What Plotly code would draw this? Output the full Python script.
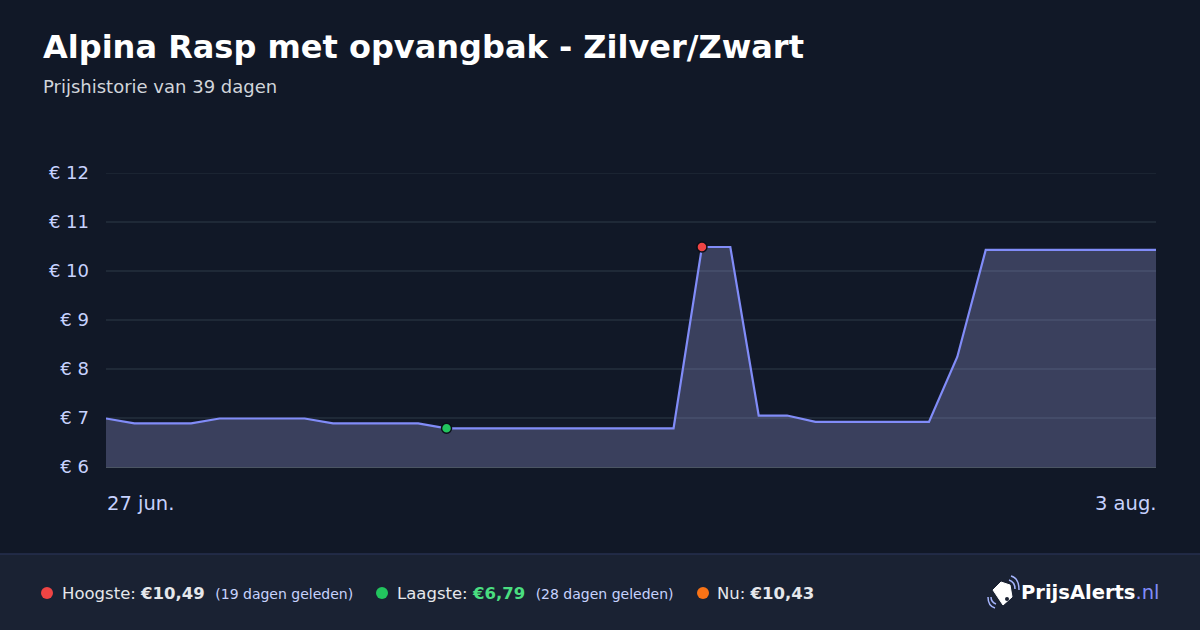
import pandas as pd
import plotly.graph_objects as go

# --- data -----------------------------------------------------------------
dates  = pd.date_range('2025-06-27', '2025-08-03', freq='D')
prices = [6.99, 6.89, 6.89, 6.89, 6.99, 6.99, 6.99, 6.99,
          6.89, 6.89, 6.89, 6.89, 6.79, 6.79, 6.79, 6.79,
          6.79, 6.79, 6.79, 6.79, 6.79, 10.49, 10.49, 7.05,
          7.05, 6.92, 6.92, 6.92, 6.92, 6.92, 8.25, 10.43,
          10.43, 10.43, 10.43, 10.43, 10.43, 10.43]
high_idx   = 21
low_idx    = 12
y_ticks    = [6, 7, 8, 9, 10, 11, 12]
x_labels   = ['27 jun.', '3 aug.']

title      = 'Alpina Rasp met opvangbak - Zilver/Zwart'
subtitle   = 'Prijshistorie van 39 dagen'

# --- styling --------------------------------------------------------------
BG        = '#111827'
FOOTER_BG = '#1a2233'
LINE      = '#818cf8'
FILL      = 'rgba(170,172,240,0.27)'
GRID      = '#1f2937'
TICK      = '#c7d2fe'
FONT      = 'DejaVu Sans'

W, H = 1200, 630
L, R, T, B = 106, 1156, 173, 467   # plot area in pixels


def px(x):
    return (x - L) / (R - L)


def py(y):
    return (B - y) / (B - T)


fig = go.Figure()

fig.add_trace(go.Scatter(x=dates, y=prices,
                         mode='lines',
                         line=dict(color=LINE, width=2.2),
                         fill='tozeroy',
                         fillcolor=FILL,
                         hoverinfo='skip'))

fig.add_trace(go.Scatter(x=[dates[high_idx], dates[low_idx]],
                         y=[prices[high_idx], prices[low_idx]],
                         mode='markers',
                         marker=dict(size=10, color=['#ef4444', '#22c55e'],
                                     line=dict(color='#0b0f19', width=1.5)),
                         hoverinfo='skip'))

fig.update_xaxes(range=[dates[0], dates[-1]],
                 showgrid=False,
                 showticklabels=False,
                 showline=True,
                 linecolor='#4b5563',
                 linewidth=1,
                 zeroline=False)

fig.update_yaxes(range=[6, 12],
                 tickmode='array',
                 tickvals=y_ticks,
                 ticktext=[f'€ {v}' for v in y_ticks],
                 showgrid=True,
                 gridcolor=GRID,
                 gridwidth=1.5,
                 zeroline=False,
                 ticklabelstandoff=16,
                 tickfont=dict(family=FONT, size=18, color=TICK))

shapes = [
    # footer band and separator
    dict(type='rect', xref='paper', yref='paper',
         x0=px(0), x1=px(W), y0=py(554), y1=py(H),
         fillcolor=FOOTER_BG, line_width=0, layer='below'),
    dict(type='line', xref='paper', yref='paper',
         x0=px(0), x1=px(W), y0=py(554), y1=py(554),
         line=dict(color='#262f4f', width=1.5)),
    # top grid line sits on the plot edge, plotly skips it
    dict(type='line', xref='paper', yref='y', x0=0, x1=1, y0=y_ticks[-1], y1=y_ticks[-1],
         line=dict(color=GRID, width=1.5), layer='below'),
]

# footer dots
for cx, col in [(47, '#ef4444'), (382, '#22c55e'), (703, '#f97316')]:
    shapes.append(dict(type='circle', xref='paper', yref='paper',
                       x0=px(cx - 6), x1=px(cx + 6), y0=py(593 - 6), y1=py(593 + 6),
                       fillcolor=col, line_width=0))

# logo: tag icon with signal waves
tag = [(993, 590), (1001, 582), (1010, 585), (1012, 597), (1003, 605)]
path = 'M ' + ' L '.join(f'{px(x)},{py(y)}' for x, y in tag) + ' Z'
shapes.append(dict(type='path', xref='paper', yref='paper', path=path,
                   fillcolor='white', line=dict(color='white', width=1)))
shapes.append(dict(type='circle', xref='paper', yref='paper',
                   x0=px(1005), x1=px(1009), y0=py(597), y1=py(601),
                   fillcolor=FOOTER_BG, line_width=0))
for (x0, y0, cx, cy, x1, y1) in [(1009, 580, 1015, 582, 1015, 589),
                                 (1011, 576, 1019, 578, 1019, 590),
                                 (991, 597, 991, 602, 996, 604),
                                 (988, 597, 988, 606, 995, 608)]:
    p = f'M {px(x0)},{py(y0)} Q {px(cx)},{py(cy)} {px(x1)},{py(y1)}'
    shapes.append(dict(type='path', xref='paper', yref='paper', path=p,
                       line=dict(color='#a5b4fc', width=1.5)))

annotations = [
    dict(text=f'<b>{title}</b>', x=px(41), y=py(47), xanchor='left', yanchor='middle',
         font=dict(family=FONT, size=32, color='white')),
    dict(text=subtitle, x=px(41), y=py(87), xanchor='left', yanchor='middle',
         font=dict(family=FONT, size=18, color='#d1d5db')),
    dict(text='Hoogste: <b>€10,49</b>  <span style="font-size:14px;color:#c7d2fe">(19 dagen geleden)</span>',
         x=px(60), y=py(593), xanchor='left', yanchor='middle',
         font=dict(family=FONT, size=16.5, color='#e5e7eb')),
    dict(text='Laagste: <b><span style="color:#4ade80">€6,79</span></b>  '
              '<span style="font-size:14px;color:#c7d2fe">(28 dagen geleden)</span>',
         x=px(395), y=py(593), xanchor='left', yanchor='middle',
         font=dict(family=FONT, size=16.5, color='#e5e7eb')),
    dict(text='Nu: <b>€10,43</b>',
         x=px(715), y=py(593), xanchor='left', yanchor='middle',
         font=dict(family=FONT, size=16.5, color='#e5e7eb')),
    dict(text='<b>PrijsAlerts</b><span style="color:#818cf8">.nl</span>',
         x=px(1161), y=py(592), xanchor='right', yanchor='middle',
         font=dict(family=FONT, size=19.5, color='white')),
]

for d, lab, anchor, shift in [(dates[0], x_labels[0], 'left', -1),
                              (dates[-1], x_labels[1], 'right', 3)]:
    annotations.append(dict(text=lab, x=d, xref='x', y=py(503), yref='paper',
                            xanchor=anchor, yanchor='middle', showarrow=False, xshift=shift,
                            font=dict(family=FONT, size=19.5, color=TICK)))

for a in annotations:
    a.setdefault('xref', 'paper')
    a.setdefault('yref', 'paper')
    a.setdefault('showarrow', False)

fig.update_layout(width=W, height=H,
                  paper_bgcolor=BG,
                  plot_bgcolor=BG,
                  showlegend=False,
                  margin=dict(l=L, r=W - R, t=T, b=H - B, pad=0),
                  shapes=shapes,
                  annotations=annotations,
                  font=dict(family=FONT))

fig.write_html("out.html",
               config={'displayModeBar': False},
               post_script="document.body.style.margin='0';")
